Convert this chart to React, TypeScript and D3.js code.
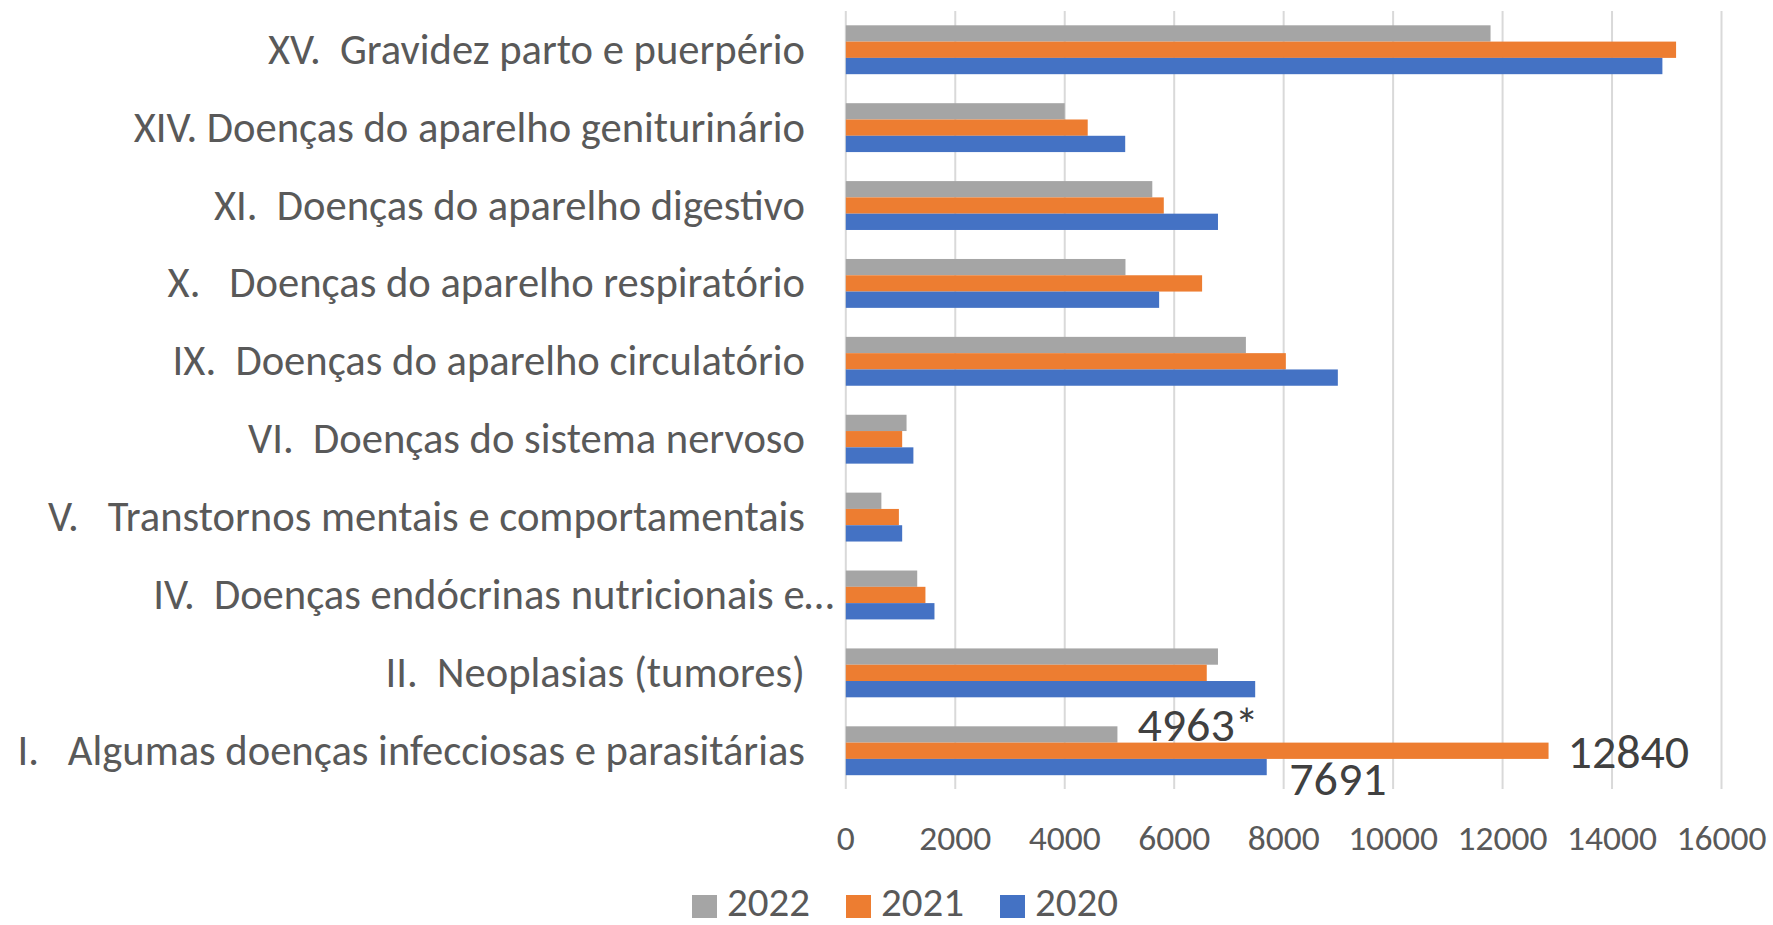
import React from "react";
import * as d3 from "d3";

const categories = [
  "XV.  Gravidez parto e puerpério",
  "XIV. Doenças do aparelho geniturinário",
  "XI.  Doenças do aparelho digestivo",
  "X.   Doenças do aparelho respiratório",
  "IX.  Doenças do aparelho circulatório",
  "VI.  Doenças do sistema nervoso",
  "V.   Transtornos mentais e comportamentais",
  "IV.  Doenças endócrinas nutricionais e…",
  "II.  Neoplasias (tumores)",
  "I.   Algumas doenças infecciosas e parasitárias",
];
const seriesNames = ["2022", "2021", "2020"];
const values2022 = [11780, 4000, 5600, 5110, 7310, 1110, 650, 1305, 6800, 4963];
const values2021 = [15170, 4420, 5810, 6510, 8040, 1030, 970, 1455, 6595, 12840];
const values2020 = [14920, 5105, 6800, 5725, 8990, 1235, 1030, 1620, 7480, 7691];
const xTicks = [0, 2000, 4000, 6000, 8000, 10000, 12000, 14000, 16000];
const dataLabels = ["4963*", "12840", "7691"]; // for category "I."

const W = 1773;
const H = 925;
const colors: Record<string, string> = { "2022": "#A5A5A5", "2021": "#ED7D31", "2020": "#4472C4" };
const FONT = "Carlito, Lato, 'Liberation Sans Narrow', sans-serif";

export default function App() {
  const x = d3.scaleLinear().domain([0, 16000]).range([845.8, 1721.5]);
  const y = d3.scaleBand<string>().domain(categories).range([10.8, 789.7]).paddingInner(0).paddingOuter(0);
  const sub = d3.scaleBand<string>().domain(seriesNames).range([0, y.bandwidth()]).paddingInner(0).paddingOuter(0.89);
  const seriesVals: Record<string, number[]> = { "2022": values2022, "2021": values2021, "2020": values2020 };
  const lastCat = categories[categories.length - 1];
  const labelOffsets: Record<string, [number, number]> = { "2022": [20, 6.5], "2021": [19, 17], "2020": [22.5, 28] };

  return (
    <svg width={W} height={H} style={{ position: "absolute", left: 0, top: 0, background: "#fff" }} fontFamily={FONT}>
      {xTicks.map((t) => (
        <line key={"g" + t} x1={x(t)} x2={x(t)} y1={11} y2={789} stroke="#d9d9d9" strokeWidth={2} />
      ))}
      {categories.map((c, i) =>
        seriesNames.map((s) => (
          <rect key={c + s} x={x(0)} y={(y(c) as number) + (sub(s) as number)} width={x(seriesVals[s][i]) - x(0)} height={sub.bandwidth()} fill={colors[s]} />
        ))
      )}
      {categories.map((c) => {
        const cy = (y(c) as number) + y.bandwidth() / 2;
        const trunc = c.endsWith("…");
        return (
          <text key={"l" + c} x={trunc ? 834 : 805} y={cy + 14} textAnchor="end" fontSize={42.6} fill="#595959" style={{ whiteSpace: "pre" }}>
            {c}
          </text>
        );
      })}
      {xTicks.map((t) => (
        <text key={"t" + t} x={x(t)} y={850} textAnchor="middle" fontSize={35.5} fill="#595959">
          {t}
        </text>
      ))}
      {seriesNames.map((s, k) => {
        const i = categories.indexOf(lastCat);
        const v = seriesVals[s][i];
        const by = (y(lastCat) as number) + (sub(s) as number) + sub.bandwidth() / 2;
        const [dx, dy] = labelOffsets[s];
        return (
          <text key={"d" + s} x={x(v) + dx} y={by + dy} fontSize={48} fill="#404040">
            {dataLabels[k]}
          </text>
        );
      })}
      {seriesNames.map((s, k) => {
        const lx = [692, 846, 1000][k];
        return (
          <g key={"lg" + s}>
            <rect x={lx} y={895} width={25} height={23} fill={colors[s]} />
            <text x={lx + 35} y={916} fontSize={41} fill="#595959">
              {s}
            </text>
          </g>
        );
      })}
    </svg>
  );
}
